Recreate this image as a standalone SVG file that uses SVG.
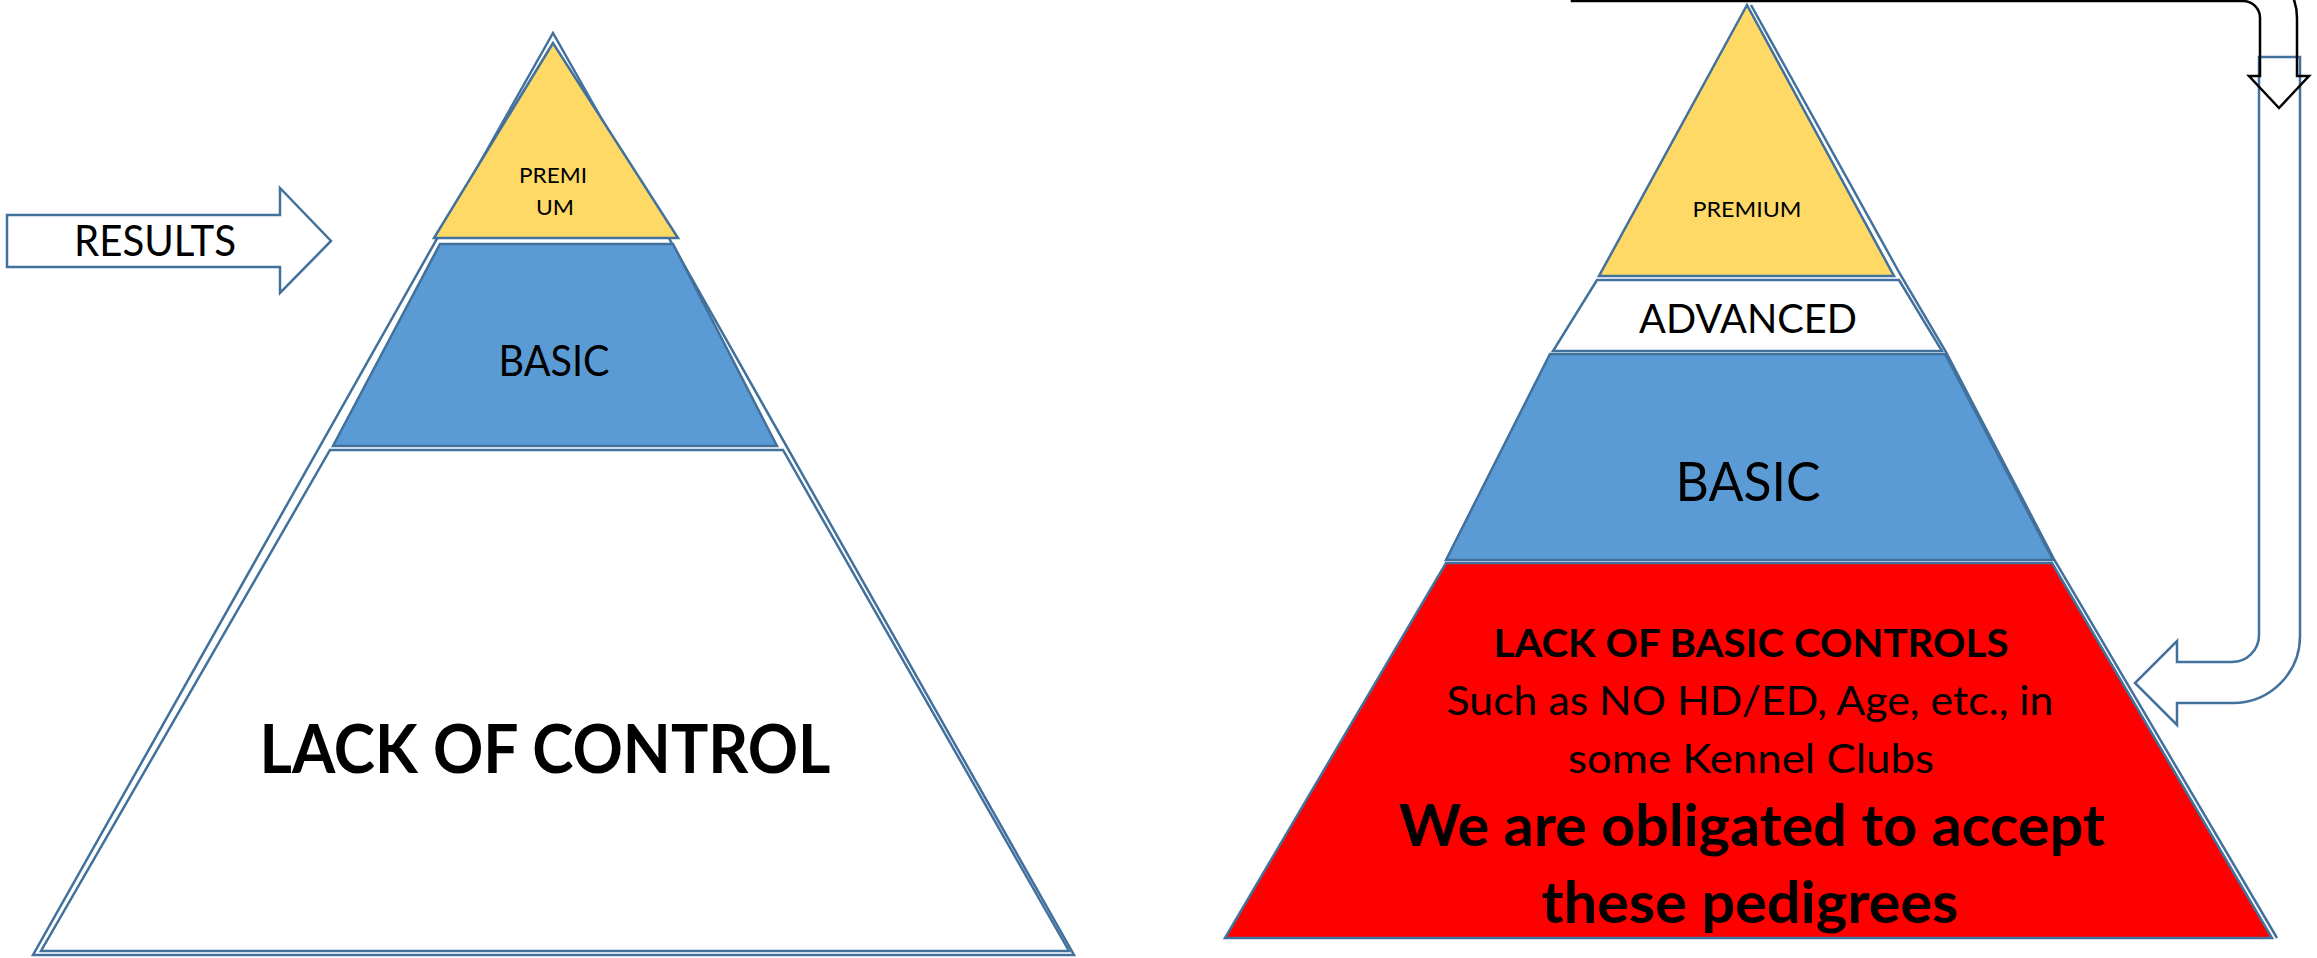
<svg xmlns="http://www.w3.org/2000/svg" width="2317" height="958" viewBox="0 0 2317 958">
<style>
.seg{stroke:#41719C;stroke-width:2.5;stroke-linejoin:miter}
.yel{fill:#FFD966}
.blu{fill:#5B9BD5}
.wht{fill:#FFFFFF}
.red{fill:#FF0000}
.t{font-family:Lato,"Open Sans","Liberation Sans",sans-serif;fill:#000;text-anchor:middle}
.b{font-weight:bold}
.conn-blue{fill:none;stroke:#41719C;stroke-width:2.5}
.conn-black{fill:none;stroke:#000;stroke-width:2.5}
</style>
<rect width="2317" height="958" fill="#FFFFFF"/>

<g id="left-pyramid">
  <polygon class="seg wht" points="553,33 33,955 1074,955"/>
  <g id="left-premium">
    <polygon class="seg yel" points="553,43 434,238 678,238"/>
    <text class="t" x="553" y="183" font-size="21" textLength="68" lengthAdjust="spacingAndGlyphs">PREMI</text>
    <text class="t" x="555" y="215" font-size="21" textLength="38" lengthAdjust="spacingAndGlyphs">UM</text>
  </g>
  <g id="left-basic">
    <polygon class="seg blu" points="440,244 673,244 777,446 333,446"/>
    <text class="t" x="554" y="376" font-size="42" textLength="111" lengthAdjust="spacingAndGlyphs">BASIC</text>
  </g>
  <g id="left-lack">
    <polygon class="seg wht" points="330,450 783,450 1069,951 41,951"/>
    <text class="t b" x="545" y="773" font-size="66" textLength="571" lengthAdjust="spacingAndGlyphs">LACK OF CONTROL</text>
  </g>
</g>

<g id="results-arrow">
  <polygon class="seg wht" points="7,215 280,215 280,188 331,241 280,293 280,267 7,267"/>
  <text class="t" x="155" y="256" font-size="42" textLength="162" lengthAdjust="spacingAndGlyphs">RESULTS</text>
</g>

<g id="right-pyramid">
  <polyline class="seg" fill="none" points="1751,5 1900,274 1946,352 2055,561 2277,938"/>
  <g id="right-premium">
    <polygon class="seg yel" points="1747,5 1599,276 1894,276"/>
    <text class="t" x="1747" y="217" font-size="22" textLength="109" lengthAdjust="spacingAndGlyphs">PREMIUM</text>
  </g>
  <g id="right-advanced">
    <polygon class="seg wht" points="1597,280 1899,280 1942,351 1553,351"/>
    <text class="t" x="1748" y="333" font-size="40" textLength="218" lengthAdjust="spacingAndGlyphs">ADVANCED</text>
  </g>
  <g id="right-basic">
    <polygon class="seg blu" points="1550,354 1945,354 2053,560 1446,560"/>
    <text class="t" x="1748" y="501" font-size="55" textLength="145" lengthAdjust="spacingAndGlyphs">BASIC</text>
  </g>
  <g id="right-lack">
    <polygon class="seg red" points="1446,563 2052,563 2272,938 1225,938"/>
    <text class="t b" x="1751" y="657" font-size="39" textLength="515" lengthAdjust="spacingAndGlyphs">LACK OF BASIC CONTROLS</text>
    <text class="t" x="1750" y="715" font-size="40" textLength="607" lengthAdjust="spacingAndGlyphs">Such as NO HD/ED, Age, etc., in</text>
    <text class="t" x="1751" y="773" font-size="40" textLength="366" lengthAdjust="spacingAndGlyphs">some Kennel Clubs</text>
    <text class="t b" x="1752" y="846" font-size="57" textLength="706" lengthAdjust="spacingAndGlyphs">We are obligated to accept</text>
    <text class="t b" x="1750" y="923" font-size="57" textLength="417" lengthAdjust="spacingAndGlyphs">these pedigrees</text>
  </g>
</g>

<g id="connectors">
  <path class="conn-blue" d="M2259,57 L2300,57 L2300,636 A67,67 0 0 1 2233,703 L2177,703 L2177,725 L2135,683 L2177,641 L2177,662 L2232,662 A27,27 0 0 0 2259,635 Z"/>
  <path class="conn-black" d="M1572,-36 L2243,-36 A54,54 0 0 1 2297,18 L2297,76 L2309,76 L2279,108 L2249,76 L2260,76 L2260,18 A17,17 0 0 0 2243,1 L1572,1 Z"/>
</g>
</svg>
